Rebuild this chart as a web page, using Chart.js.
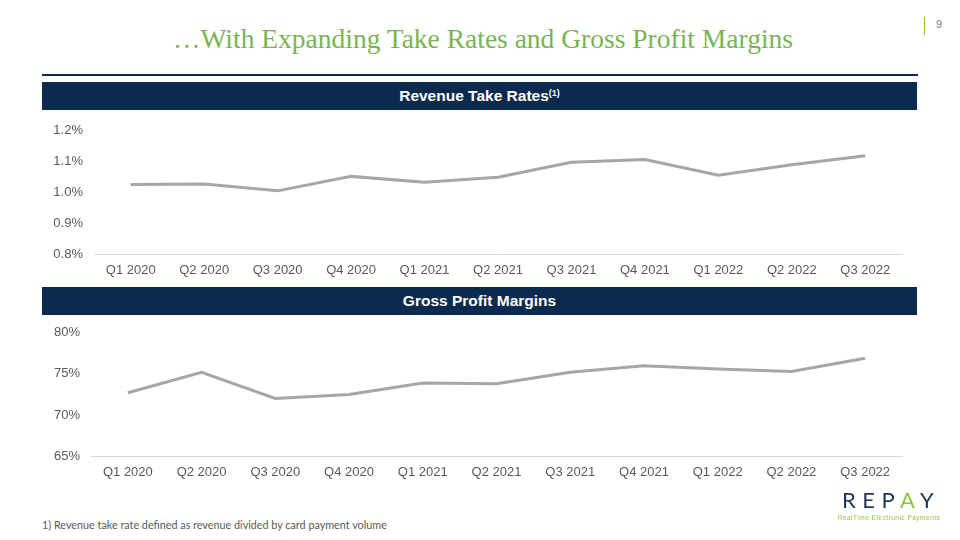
<!DOCTYPE html>
<html>
<head>
<meta charset="utf-8">
<script src="https://cdn.jsdelivr.net/npm/chart.js@4.4.0/dist/chart.umd.min.js"></script>
<style>
  body { margin: 0; width: 960px; height: 540px; background: #fff; position: relative; overflow: hidden; font-family: "Liberation Sans", Arial, sans-serif; }
  .title { position: absolute; left: 0; width: 966px; top: 23px; text-align: center; font-family: "Liberation Serif", serif; font-size: 27.5px; color: #79b453; }
  .rule { position: absolute; left: 42px; width: 876px; top: 74px; height: 2px; background: #0c2a4d; }
  .bar { position: absolute; left: 42px; width: 875px; height: 28px; background: #0c2a4d; color: #fff; font-weight: bold; font-size: 15.5px; text-align: center; line-height: 28px; }
  .bar sup { font-size: 9px; vertical-align: 5px; line-height: 0; }
  .pg { position: absolute; left: 936px; top: 18px; font-size: 11px; color: #7f7f7f; }
  .pgline { position: absolute; left: 924px; top: 17px; width: 1px; height: 18px; background: #8dc63f; }
  .note { position: absolute; left: 42px; top: 518px; font-family: Lato, "Liberation Sans", sans-serif; font-size: 10.8px; color: #595959; }
  .logo { position: absolute; left: 842px; top: 486px; font-family: Lato, "Liberation Sans", sans-serif; font-size: 22px; letter-spacing: 6.5px; color: #1d3557; }
  .logo span { color: #8dc63f; }
  .tag { position: absolute; left: 834px; top: 514px; width: 110px; text-align: center; font-size: 6.5px; color: #8dc63f; letter-spacing: 0.5px; }
  canvas { position: absolute; left: 0; }
</style>
</head>
<body>
<div class="title">…With Expanding Take Rates and Gross Profit Margins</div>
<div class="pgline"></div>
<div class="pg">9</div>
<div class="rule"></div>
<div class="bar" style="top:82px">Revenue Take Rates<sup>(1)</sup></div>
<div class="bar" style="top:287px">Gross Profit Margins</div>
<canvas id="takeRate" style="top:112px"></canvas>
<canvas id="grossMargin" style="top:314px"></canvas>
<div class="note">1) Revenue take rate defined as revenue divided by card payment volume</div>
<div class="logo">REP<span>A</span>Y</div>
<div class="tag">RealTime Electronic Payments</div>
<script>
const quarters = ["Q1 2020", "Q2 2020", "Q3 2020", "Q4 2020", "Q1 2021", "Q2 2021",
                  "Q3 2021", "Q4 2021", "Q1 2022", "Q2 2022", "Q3 2022"];
// revenue take rate, %
const takeRates = [1.026, 1.027, 1.005, 1.052, 1.033, 1.049, 1.098, 1.107, 1.056, 1.090, 1.119];
// gross profit margin, %
const grossMargins = [72.7, 75.2, 72.0, 72.5, 73.9, 73.8, 75.2, 76.0, 75.6, 75.3, 76.9];

const tickFont = { family: "'Liberation Sans', Arial, sans-serif", size: 13 };
const tickColor = "#595959";

// the y axis adds half a label + tick padding (~18px) above the plot on its own
function makeChart(id, height, values, yMin, yMax, yStep, fmt, yWidth, xHeight) {
    const cv = document.getElementById(id);
    cv.width = 960;
    cv.height = height;
    cv.style.width = "960px";
    cv.style.height = height + "px";
    return new Chart(cv.getContext("2d"), {
        type: "line",
        data: {
            labels: quarters,
            datasets: [{
                data: values,
                borderColor: "#a6a6a6",
                borderWidth: 3,
                pointRadius: 0,
                tension: 0,
                fill: false
            }]
        },
        options: {
            responsive: false,
            animation: false,
            layout: { padding: { left: 0, right: 58, top: 0, bottom: 0 } },
            plugins: { legend: { display: false }, tooltip: { enabled: false } },
            scales: {
                x: {
                    offset: true,
                    grid: { display: false, drawTicks: false },
                    border: { display: true, color: "#d9d9d9", width: 1 },
                    ticks: { font: tickFont, color: tickColor, padding: 9, maxRotation: 0, autoSkip: false },
                    afterFit: s => { s.height = xHeight; }
                },
                y: {
                    min: yMin,
                    max: yMax,
                    grid: { display: false, drawTicks: false },
                    border: { display: false },
                    ticks: {
                        stepSize: yStep,
                        font: tickFont,
                        color: tickColor,
                        padding: 11,
                        callback: v => fmt(v)
                    },
                    afterFit: s => { s.width = yWidth; }
                }
            }
        }
    });
}

makeChart("takeRate", 172, takeRates, 0.8, 1.2, 0.1, v => v.toFixed(1) + "%", 94, 30);
makeChart("grossMargin", 173, grossMargins, 65, 80, 5, v => Math.round(v) + "%", 91, 31);
</script>
</body>
</html>
